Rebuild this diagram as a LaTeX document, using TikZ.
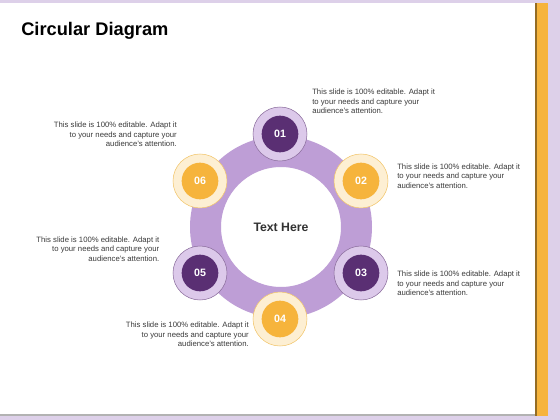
\documentclass[tikz,border=0pt]{standalone}
\usepackage{fontspec}
\setmainfont{Liberation Sans}
\usepackage{tikz}
\definecolor{lavbg}{HTML}{DDD0E9}
\definecolor{ringc}{HTML}{BE9ED6}
\definecolor{lightlav}{HTML}{DCC9EA}
\definecolor{darkpur}{HTML}{5A2F73}
\definecolor{orangec}{HTML}{F6B43C}
\definecolor{creamc}{HTML}{FDEFD3}
\definecolor{creamb}{HTML}{F2C56A}
\definecolor{txtgray}{HTML}{3A3A3A}
\tikzset{t/.style={font=\fontsize{5.8}{7.05}\selectfont,text=txtgray,inner sep=0pt}}
\tikzset{num/.style={circle,inner sep=0pt,minimum size=27.5pt,text=white,font=\fontsize{8}{9}\bfseries}}
\tikzset{pout/.style={circle,inner sep=0pt,minimum size=40.5pt,fill=lightlav,draw=darkpur!70,line width=0.4pt}}
\tikzset{oout/.style={circle,inner sep=0pt,minimum size=40.5pt,fill=creamc,draw=creamb,line width=0.4pt}}

\begin{document}
\begin{tikzpicture}[x=0.75pt,y=-0.75pt]
        \useasboundingbox (0,0) rectangle (560,420);
        \fill[lavbg] (0,0) rectangle (560,420);
        \fill[black!30] (0,414) rectangle (537,416);
        \fill[white] (0,3) rectangle (535,414);
        \fill[orangec!60!black] (535,3) rectangle (537,416);
        \fill[orangec] (537,3) rectangle (548,416);
        \node[anchor=base west,inner sep=0pt,font=\fontsize{13.7}{16}\bfseries] (title) at (21,36) {Circular Diagram};
        % ring
        \fill[ringc,even odd rule] (281,227) circle[radius=68.25pt] circle[radius=45pt];
        \node[font=\fontsize{9.2}{11}\bfseries,text=black!80] (ctr) at (281,227) {Text Here};
        \node[pout] (o1) at (280,134) {};
        \node[num,fill=darkpur] (n1) at (o1) {01};
        \node[oout] (o2) at (361,181) {};
        \node[num,fill=orangec] (n2) at (o2) {02};
        \node[pout] (o3) at (361,273) {};
        \node[num,fill=darkpur] (n3) at (o3) {03};
        \node[oout] (o4) at (280,319) {};
        \node[num,fill=orangec] (n4) at (o4) {04};
        \node[pout] (o5) at (200,273) {};
        \node[num,fill=darkpur] (n5) at (o5) {05};
        \node[oout] (o6) at (200,181) {};
        \node[num,fill=orangec] (n6) at (o6) {06};
        % texts
        \node[t,align=left,anchor=north west] (t1) at (312,89) {This slide is 100\% editable. Adapt it\\to your needs and capture your\\audience’s attention.};
        \node[t,align=left,anchor=north west] (t2) at (397,163.5) {This slide is 100\% editable. Adapt it\\to your needs and capture your\\audience’s attention.};
        \node[t,align=left,anchor=north west] (t3) at (397,271) {This slide is 100\% editable. Adapt it\\to your needs and capture your\\audience’s attention.};
        \node[t,align=right,anchor=north east] (t4) at (249,322) {This slide is 100\% editable. Adapt it\\to your needs and capture your\\audience’s attention.};
        \node[t,align=right,anchor=north east] (t5) at (159.5,236.5) {This slide is 100\% editable. Adapt it\\to your needs and capture your\\audience’s attention.};
        \node[t,align=right,anchor=north east] (t6) at (177,122) {This slide is 100\% editable. Adapt it\\to your needs and capture your\\audience’s attention.};
      \end{tikzpicture}
\end{document}
